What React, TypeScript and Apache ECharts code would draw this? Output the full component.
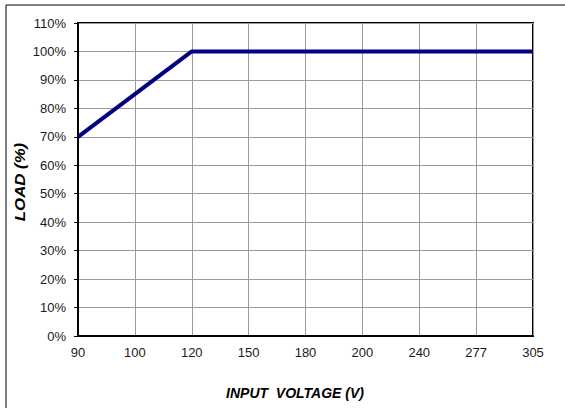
import React, { useEffect, useRef } from "react";
import * as echarts from "echarts";

const voltages = ["90", "100", "120", "150", "180", "200", "240", "277", "305"];
const loadPct = [70, 85, 100, 100, 100, 100, 100, 100, 100];

export default function App() {
  const ref = useRef<HTMLDivElement>(null);
  useEffect(() => {
    const chart = echarts.init(ref.current!, null, { renderer: "svg" });
    chart.setOption({
      animation: false,
      backgroundColor: "#fff",
      textStyle: { fontFamily: "Liberation Sans, Arial, sans-serif" },
      graphic: [
        {
          type: "rect",
          shape: { x: 6, y: 5, width: 600, height: 450 },
          style: { fill: "none", stroke: "#000", lineWidth: 1 },
          silent: true,
          z: -10,
        },
        {
          type: "text",
          x: 20,
          y: 182,
          rotation: Math.PI / 2,
          scaleX: 1.2,
          style: {
            text: "LOAD (%)",
            font: "italic bold 14px Liberation Sans, Arial, sans-serif",
            fill: "#000",
            align: "center",
            verticalAlign: "middle",
          },
        },
        {
          type: "text",
          x: 295,
          y: 393,
          style: {
            text: "INPUT  VOLTAGE (V)",
            font: "italic bold 14px Liberation Sans, Arial, sans-serif",
            fill: "#000",
            align: "center",
            verticalAlign: "middle",
          },
        },
      ],
      grid: {
        left: 78,
        right: 32,
        top: 23,
        bottom: 72,
        show: true,
        borderColor: "#000",
        borderWidth: 2,
        backgroundColor: "transparent",
      },
      xAxis: {
        type: "category",
        data: voltages,
        boundaryGap: false,
        axisLine: { show: true, lineStyle: { color: "#000", width: 2 } },
        axisTick: { show: false },
        axisLabel: { color: "#1a1a1a", fontSize: 13, margin: 10 },
        splitLine: { show: true, lineStyle: { color: "#9a9a9a", width: 1 } },
      },
      yAxis: {
        type: "value",
        min: 0,
        max: 110,
        interval: 10,
        axisLine: { show: true, lineStyle: { color: "#000", width: 2 } },
        axisTick: { show: true, length: 4, lineStyle: { color: "#000" } },
        axisLabel: { color: "#1a1a1a", fontSize: 13, margin: 12, formatter: "{value}%" },
        splitLine: { show: true, lineStyle: { color: "#9a9a9a", width: 1 } },
      },
      series: [
        {
          type: "line",
          data: loadPct,
          symbol: "none",
          lineStyle: { color: "#000080", width: 4 },
          z: 5,
        },
      ],
    });
    return () => chart.dispose();
  }, []);
  return (
    <div
      ref={ref}
      style={{ position: "fixed", left: 0, top: 0, width: 565, height: 408 }}
    />
  );
}
